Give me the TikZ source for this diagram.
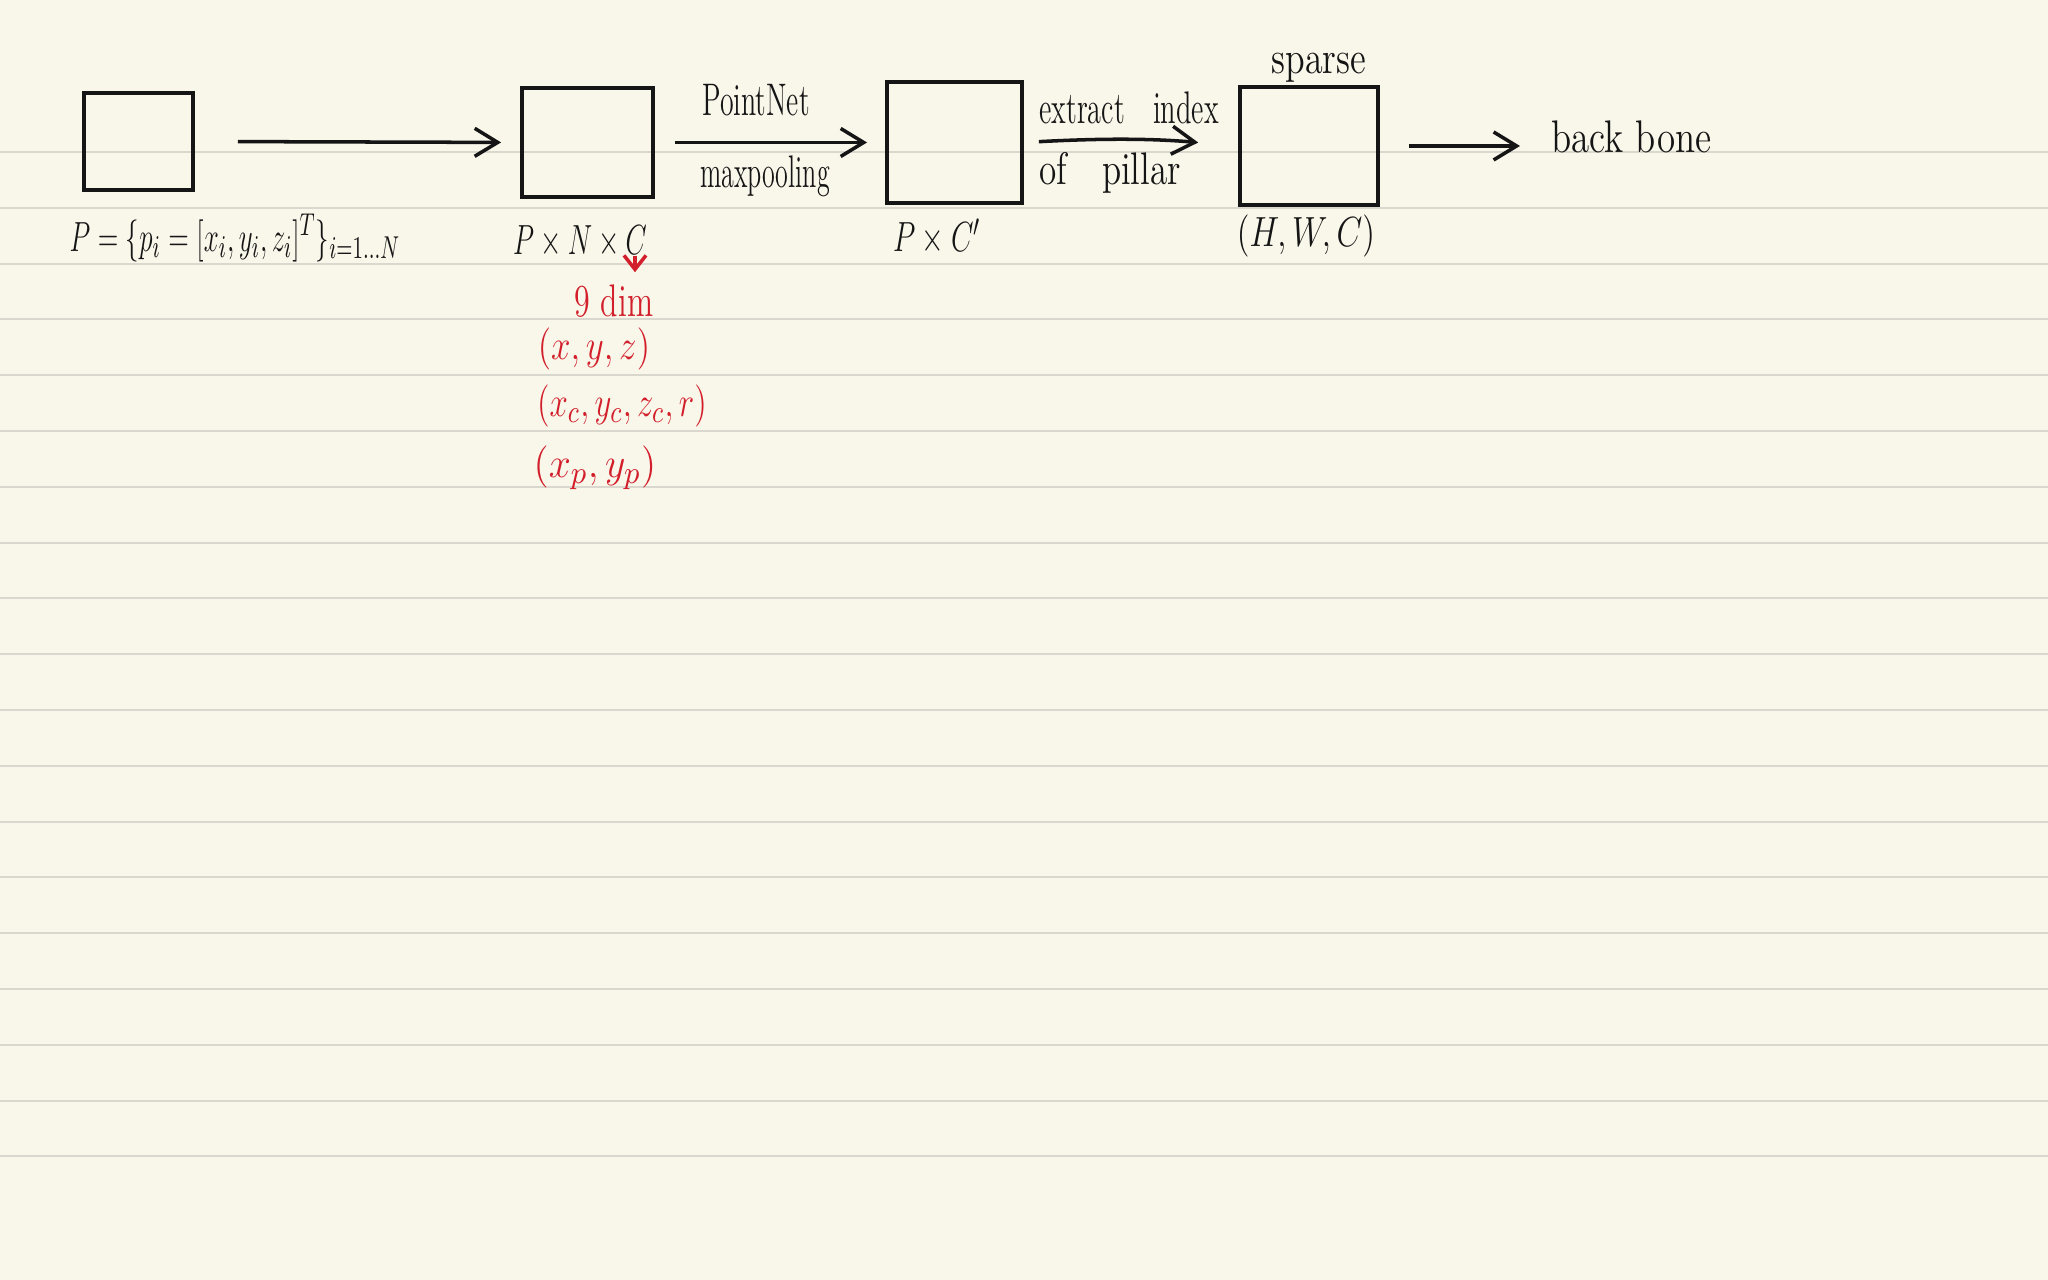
\documentclass[tikz,border=0pt]{standalone}
\usepackage{amsmath}
\usepackage{graphicx}
\usepackage{xcolor}
\usetikzlibrary{arrows.meta}
\definecolor{paper}{HTML}{F9F6EA}
\definecolor{ruling}{HTML}{DAD8CE}
\definecolor{ink}{HTML}{151515}
\definecolor{pen}{HTML}{D21F2B}
\newcommand{\squeeze}[2][0.7]{\scalebox{#1}[1]{#2}}

\begin{document}
\begin{tikzpicture}[
    >={Straight Barb[length=2.3mm,width=2.8mm]},
    box/.style={draw=ink,line width=1.1pt,rectangle,inner sep=0pt},
    lbl/.style={text=ink,font=\fontsize{13}{15}\selectfont},
    note/.style={text=pen,font=\fontsize{13}{15}\selectfont},
    flow/.style={->,line width=1pt,draw=ink}
  ]
    \useasboundingbox (0,0) rectangle (20.48,12.8);
    \fill [paper] (0,0) rectangle (20.48,12.8);
    \foreach \k in {0,...,18}
        \draw [ruling, line width=0.6pt] (0,{11.28-0.558*\k}) -- (20.48,{11.28-0.558*\k});

    \node [box, minimum width=1.09cm, minimum height=0.97cm] (pts)     at (1.385,11.385) {};
    \node [box, minimum width=1.31cm, minimum height=1.09cm] (stacked) at (5.875,11.375) {};
    \node [box, minimum width=1.35cm, minimum height=1.21cm] (feat)    at (9.545,11.375) {};
    \node [box, minimum width=1.38cm, minimum height=1.18cm] (pseudo)  at (13.09,11.34) {};

    \node [lbl] (pset)   at (2.35,10.42)  {\squeeze[0.64]{$P=\{p_i=[x_i, y_i, z_i]^T\}_{i=1\ldots N}$}};
    \node [lbl] (pnc)    at (5.80,10.38)  {\squeeze[0.65]{$P\times N\times C$}};
    \node [lbl] (pc)     at (9.37,10.43)  {\squeeze[0.69]{$P\times C'$}};
    \node [lbl] (hwc)    at (13.06,10.44) {\squeeze[0.79]{$(H, W, C)$}};
    \node [lbl] (sparse) at (13.19,12.12) {\squeeze[0.79]{sparse}};
    \node [lbl] (pnet)   at (7.56,11.80)  {\squeeze[0.61]{PointNet}};
    \node [lbl] (maxp)   at (7.65,11.04)  {\squeeze[0.57]{maxpooling}};
    \node [lbl] (extr)   at (11.29,11.72) {\squeeze[0.62]{extract\quad index}};
    \node [lbl] (ofp)    at (11.10,11.07) {\squeeze[0.77]{of\quad pillar}};
    \node [lbl, anchor=west] (bb) at (15.39,11.43) {\squeeze[0.81]{back bone}};

    \draw [flow, shorten <=0.43cm, shorten >=0.19cm] (pts.east) -- (stacked.west);
    \draw [flow, shorten <=0.20cm, shorten >=0.18cm] (stacked.east) -- (feat.west);
    \draw [flow, shorten <=0.15cm, shorten >=0.40cm] (feat.east) to [bend left=4] (pseudo.west);
    \draw [flow, shorten <=0.29cm, shorten >=0.19cm] (pseudo.east) -- (pseudo.east -| bb.west);

    \begin{scope}[pen]
    \node [note] (ninedim) at (6.14,9.79) {\squeeze[0.70]{9 dim}};
    \node [note] (xyz)     at (5.94,9.31) {\squeeze[0.83]{$(x, y, z)$}};
    \node [note] (center)  at (6.22,8.74) {\squeeze[0.78]{$(x_c, y_c, z_c, r)$}};
    \node [note] (offset)  at (5.95,8.12) {\squeeze[0.94]{$(x_p, y_p)$}};
    \coordinate (cpos) at (6.35,10.24);
    \draw [->, line width=1pt, >={Straight Barb[length=1.4mm,width=2.2mm]}] (cpos) -- (cpos |- ninedim.north);
    \end{scope}
\end{tikzpicture}
\end{document}
